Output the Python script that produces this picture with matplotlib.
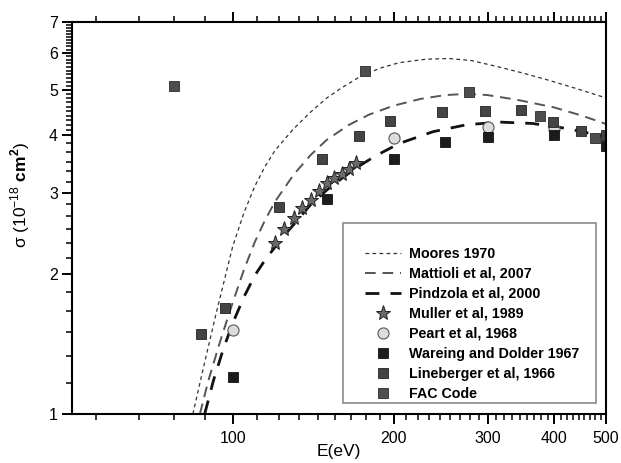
import numpy as np
import matplotlib
matplotlib.use("Agg")
import matplotlib.pyplot as plt
from matplotlib.ticker import FixedLocator, NullFormatter, FixedFormatter
from matplotlib.patches import Rectangle

plt.rcParams['font.family'] = ['Liberation Sans', 'DejaVu Sans']
plt.rcParams['mathtext.fontset'] = 'custom'
plt.rcParams['mathtext.rm'] = 'Liberation Sans'
plt.rcParams['mathtext.bf'] = 'Liberation Sans:bold'

# ---- data ----
moores_E = [84.2, 88, 93, 100, 105, 110, 115, 120, 130, 140, 150, 160, 175, 190, 205, 230, 254,
            280, 315, 350, 391, 440, 492, 500]
moores_s = [1.0, 1.25, 1.64, 2.30, 2.72, 3.10, 3.42, 3.70, 4.12, 4.48, 4.80, 5.05, 5.38, 5.58, 5.72,
            5.82, 5.84, 5.78, 5.60, 5.43, 5.24, 5.03, 4.83, 4.80]

mattioli_E = [86.8, 90, 95, 100, 105, 110, 115, 120, 130, 140, 150, 165, 180, 200, 225, 250, 275,
              300, 340, 400, 450, 500]
mattioli_s = [1.0, 1.18, 1.45, 1.74, 2.05, 2.35, 2.62, 2.87, 3.28, 3.62, 3.90, 4.20, 4.42, 4.62,
              4.78, 4.87, 4.90, 4.87, 4.76, 4.58, 4.40, 4.22]

pindzola_E = [88.6, 92, 96, 100, 105, 110, 115, 120, 125, 130, 140, 150, 160, 170, 185, 205, 237,
              273, 315, 364, 420, 485, 500]
pindzola_s = [1.0, 1.18, 1.38, 1.57, 1.79, 1.99, 2.15, 2.29, 2.43, 2.56, 2.83, 3.04, 3.22, 3.39,
              3.60, 3.83, 4.06, 4.20, 4.26, 4.23, 4.13, 3.99, 3.96]

muller_E = [120, 125, 130, 135, 140, 145, 150, 155, 160, 165, 170]
muller_s = [2.34, 2.50, 2.64, 2.78, 2.90, 3.02, 3.14, 3.23, 3.29, 3.38, 3.48]

peart_E = [100, 200, 300, 400]
peart_s = [1.52, 3.93, 4.16, 4.11]

wareing_E = [100, 150, 200, 250, 300, 400, 500]
wareing_s = [1.20, 2.91, 3.54, 3.85, 3.95, 4.00, 3.79]

lineberger_E = [87.1, 96.6, 121.9, 146.9, 172, 197, 247, 297, 347, 397, 448, 500]
lineberger_s = [1.487, 1.692, 2.79, 3.54, 3.97, 4.29, 4.47, 4.51, 4.52, 4.27, 4.08, 3.99]

fac_E = [77.6, 177, 277, 376, 476]
fac_s = [5.09, 5.49, 4.94, 4.39, 3.94]

x_major = [100, 200, 300, 400, 500]
x_labels = ['100', '200', '300', '400', '500']
y_major = [1, 2, 3, 4, 5, 6, 7]
y_labels = ['1', '2', '3', '4', '5', '6', '7']

# ---- figure ----
fig = plt.figure(figsize=(6.21, 4.63), dpi=100)
ax = fig.add_axes([72/621, 1-414/463, (606-72)/621, (414-22)/463])
ax.set_xscale('log')
ax.set_yscale('log')
ax.set_xlim(50, 500)
ax.set_ylim(1, 7)

l1, = ax.plot(moores_E, moores_s, color='#333333', lw=0.9, ls=(0, (3, 2.6)), label='Moores 1970')
l2, = ax.plot(mattioli_E, mattioli_s, color='#555555', lw=1.4, ls=(0, (5.5, 3.5)), label='Mattioli et al, 2007')
l3, = ax.plot(pindzola_E, pindzola_s, color='#111111', lw=2.0, ls=(0, (5, 4)), label='Pindzola et al, 2000')

sq = 7
l4, = ax.plot(muller_E, muller_s, ls='none', marker='*', ms=11, mfc='#6a6a6a', mec='#222222', mew=0.7,
              label='Muller et al, 1989')
l5, = ax.plot(peart_E, peart_s, ls='none', marker='o', ms=8, mfc='#dcdcdc', mec='#555555', mew=0.8,
              label='Peart et al, 1968')
l6, = ax.plot(wareing_E, wareing_s, ls='none', marker='s', ms=sq, mfc='#1c1c1c', mec='#111111', mew=0.6,
              label='Wareing and Dolder 1967')
l7, = ax.plot(lineberger_E, lineberger_s, ls='none', marker='s', ms=sq, mfc='#444444', mec='#222222', mew=0.6,
              label='Lineberger et al, 1966')
l8, = ax.plot(fac_E, fac_s, ls='none', marker='s', ms=sq, mfc='#4e4e4e', mec='#2a2a2a', mew=0.6,
              label='FAC Code')

# ticks
x_minor = [100*n/9 for n in range(5, 45) if n % 9 != 0]
ax.xaxis.set_major_locator(FixedLocator(x_major))
ax.xaxis.set_major_formatter(FixedFormatter(x_labels))
ax.xaxis.set_minor_locator(FixedLocator(x_minor))
ax.xaxis.set_minor_formatter(NullFormatter())

y_minor = []
for a in range(1, 4):
    y_minor += [a + k/6 for k in range(1, 6)]
for a in range(4, 7):
    y_minor += [a + k/10 for k in range(1, 10)]
ax.yaxis.set_major_locator(FixedLocator(y_major))
ax.yaxis.set_major_formatter(FixedFormatter(y_labels))
ax.yaxis.set_minor_locator(FixedLocator(y_minor))
ax.yaxis.set_minor_formatter(NullFormatter())

ax.tick_params(axis='x', which='both', direction='out', top=True, bottom=True, labeltop=False)
ax.tick_params(axis='y', which='both', direction='out', left=True, right=False)
ax.tick_params(which='major', length=7, width=1.4, labelsize=11.5)
ax.tick_params(axis='x', which='major', pad=5)
ax.tick_params(axis='y', which='major', pad=3)
ax.tick_params(which='minor', length=4, width=1.1)
for s in ax.spines.values():
    s.set_linewidth(1.5)

ax.set_xlabel('E(eV)', fontsize=12.5)
ax.xaxis.set_label_coords(0.5, -0.077)
ax.set_ylabel(r'σ (10$^{-18}$ $\mathbf{cm}^{\mathbf{2}}$)', fontsize=12.5, labelpad=8)
ax.yaxis.set_label_coords(-0.075, 0.56)

# legend box
rect = Rectangle((0.5075, 0.028), 0.981-0.5075, 0.487-0.028, transform=ax.transAxes,
                 facecolor='white', edgecolor='#8a8a8a', lw=1.2, zorder=4)
ax.add_patch(rect)
leg = ax.legend(handles=[l1, l2, l3, l4, l5, l6, l7, l8], loc='lower left',
                bbox_to_anchor=(365/621, 62/463), bbox_transform=fig.transFigure,
                frameon=False, borderpad=0, borderaxespad=0, handlelength=2.5,
                handletextpad=0.55, labelspacing=0.42,
                prop={'family': 'Liberation Sans', 'weight': 'bold', 'size': 10.3})
leg.set_zorder(5)

fig.savefig('out.png', dpi=100)
